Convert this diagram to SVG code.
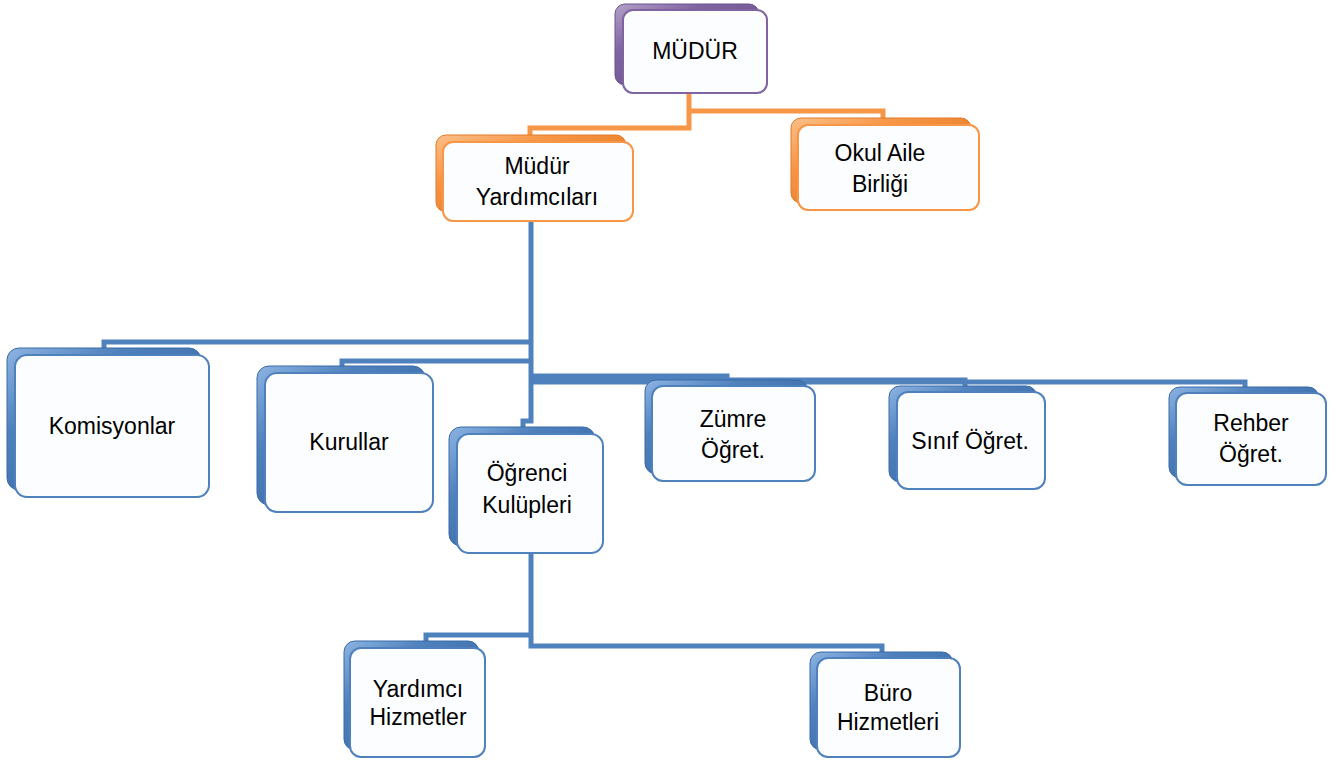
<svg xmlns="http://www.w3.org/2000/svg" width="1335" height="763" viewBox="0 0 1335 763">
<style>
.front{fill:#fcfdff;stroke-width:2}
.fb{stroke:#4f81bd}
.fo{stroke:#f79646}
.fp{stroke:#8064a2}
.bb{fill:url(#gb);stroke:#3a6aa8;stroke-width:1}
.bo{fill:url(#go);stroke:#e07b2a;stroke-width:1}
.bp{fill:url(#gp);stroke:#6a5190;stroke-width:1}
.t{font-family:"Liberation Sans",Arial,sans-serif;font-size:23px;fill:#000;text-anchor:middle;dominant-baseline:central}
.cb{fill:none;stroke:#4f81bd;stroke-width:5}
.co{fill:none;stroke:#f79646;stroke-width:5}
</style>
<defs>
<linearGradient id="gb" x1="0" y1="0" x2="1" y2="1">
<stop offset="0" stop-color="#8db4e2"/><stop offset="0.3" stop-color="#4f81bd"/><stop offset="1" stop-color="#2c5d9b"/>
</linearGradient>
<linearGradient id="go" x1="0" y1="0" x2="1" y2="1">
<stop offset="0" stop-color="#fcc08a"/><stop offset="0.3" stop-color="#f79646"/><stop offset="1" stop-color="#d9650a"/>
</linearGradient>
<linearGradient id="gp" x1="0" y1="0" x2="1" y2="1">
<stop offset="0" stop-color="#b3a2c7"/><stop offset="0.3" stop-color="#8064a2"/><stop offset="1" stop-color="#5f497a"/>
</linearGradient>
</defs>
<rect width="1335" height="763" fill="#ffffff"/>
<g id="connectors">
<path class="co" d="M689,93 V128 H530 V137"/>
<path class="co" d="M689,111 H883 V120"/>
<path class="cb" d="M531,221 V421 H523 V429"/>
<path class="cb" d="M531,342 H104 V350"/>
<path class="cb" d="M531,361 H342 V368"/>
<path class="cb" d="M531,376 H727 V382"/>
<path class="cb" d="M531,380 H965 V388"/>
<path class="cb" d="M531,382 H1245 V389"/>
<path class="cb" d="M531,553 V646 H882 V654"/>
<path class="cb" d="M531,635 H426 V643"/>
</g>
<g id="mudur">
<rect class="bp" x="615" y="4" width="144" height="81" rx="10"/>
<rect class="front fp" x="623" y="10" width="144" height="83" rx="10"/>
<text class="t" x="695" y="51">MÜDÜR</text>
</g>
<g id="mudur-yardimcilari">
<rect class="bo" x="436" y="135" width="190" height="77" rx="10"/>
<rect class="front fo" x="443" y="142" width="190" height="79" rx="10"/>
<text class="t" x="537" y="166">Müdür</text>
<text class="t" x="537" y="197">Yardımcıları</text>
</g>
<g id="okul-aile-birligi">
<rect class="bo" x="791" y="118" width="180" height="85" rx="10"/>
<rect class="front fo" x="798" y="125" width="181" height="85" rx="10"/>
<text class="t" x="880" y="153">Okul Aile</text>
<text class="t" x="880" y="184">Birliği</text>
</g>
<g id="komisyonlar">
<rect class="bb" x="7" y="348" width="194" height="142" rx="12"/>
<rect class="front fb" x="15" y="355" width="194" height="142" rx="12"/>
<text class="t" x="112" y="426">Komisyonlar</text>
</g>
<g id="kurullar">
<rect class="bb" x="257" y="366" width="168" height="139" rx="12"/>
<rect class="front fb" x="265" y="373" width="168" height="139" rx="12"/>
<text class="t" x="349" y="442">Kurullar</text>
</g>
<g id="ogrenci-kulupleri">
<rect class="bb" x="449" y="427" width="146" height="119" rx="12"/>
<rect class="front fb" x="457" y="434" width="146" height="119" rx="12"/>
<text class="t" x="527" y="473">Öğrenci</text>
<text class="t" x="527" y="505">Kulüpleri</text>
</g>
<g id="zumre-ogret">
<rect class="bb" x="645" y="380" width="163" height="94" rx="11"/>
<rect class="front fb" x="652" y="386" width="163" height="95" rx="11"/>
<text class="t" x="733" y="419">Zümre</text>
<text class="t" x="733" y="450">Öğret.</text>
</g>
<g id="sinif-ogret">
<rect class="bb" x="889" y="386" width="148" height="96" rx="11"/>
<rect class="front fb" x="897" y="392" width="148" height="97" rx="11"/>
<text class="t" x="970" y="441">Sınıf Öğret.</text>
</g>
<g id="rehber-ogret">
<rect class="bb" x="1169" y="387" width="150" height="91" rx="11"/>
<rect class="front fb" x="1176" y="393" width="150" height="92" rx="11"/>
<text class="t" x="1251" y="423">Rehber</text>
<text class="t" x="1251" y="454">Öğret.</text>
</g>
<g id="yardimci-hizmetler">
<rect class="bb" x="344" y="641" width="135" height="109" rx="11"/>
<rect class="front fb" x="350" y="648" width="135" height="109" rx="11"/>
<text class="t" x="418" y="689">Yardımcı</text>
<text class="t" x="418" y="717">Hizmetler</text>
</g>
<g id="buro-hizmetleri">
<rect class="bb" x="810" y="652" width="143" height="98" rx="11"/>
<rect class="front fb" x="817" y="658" width="143" height="99" rx="11"/>
<text class="t" x="888" y="693">Büro</text>
<text class="t" x="888" y="722">Hizmetleri</text>
</g>
</svg>
